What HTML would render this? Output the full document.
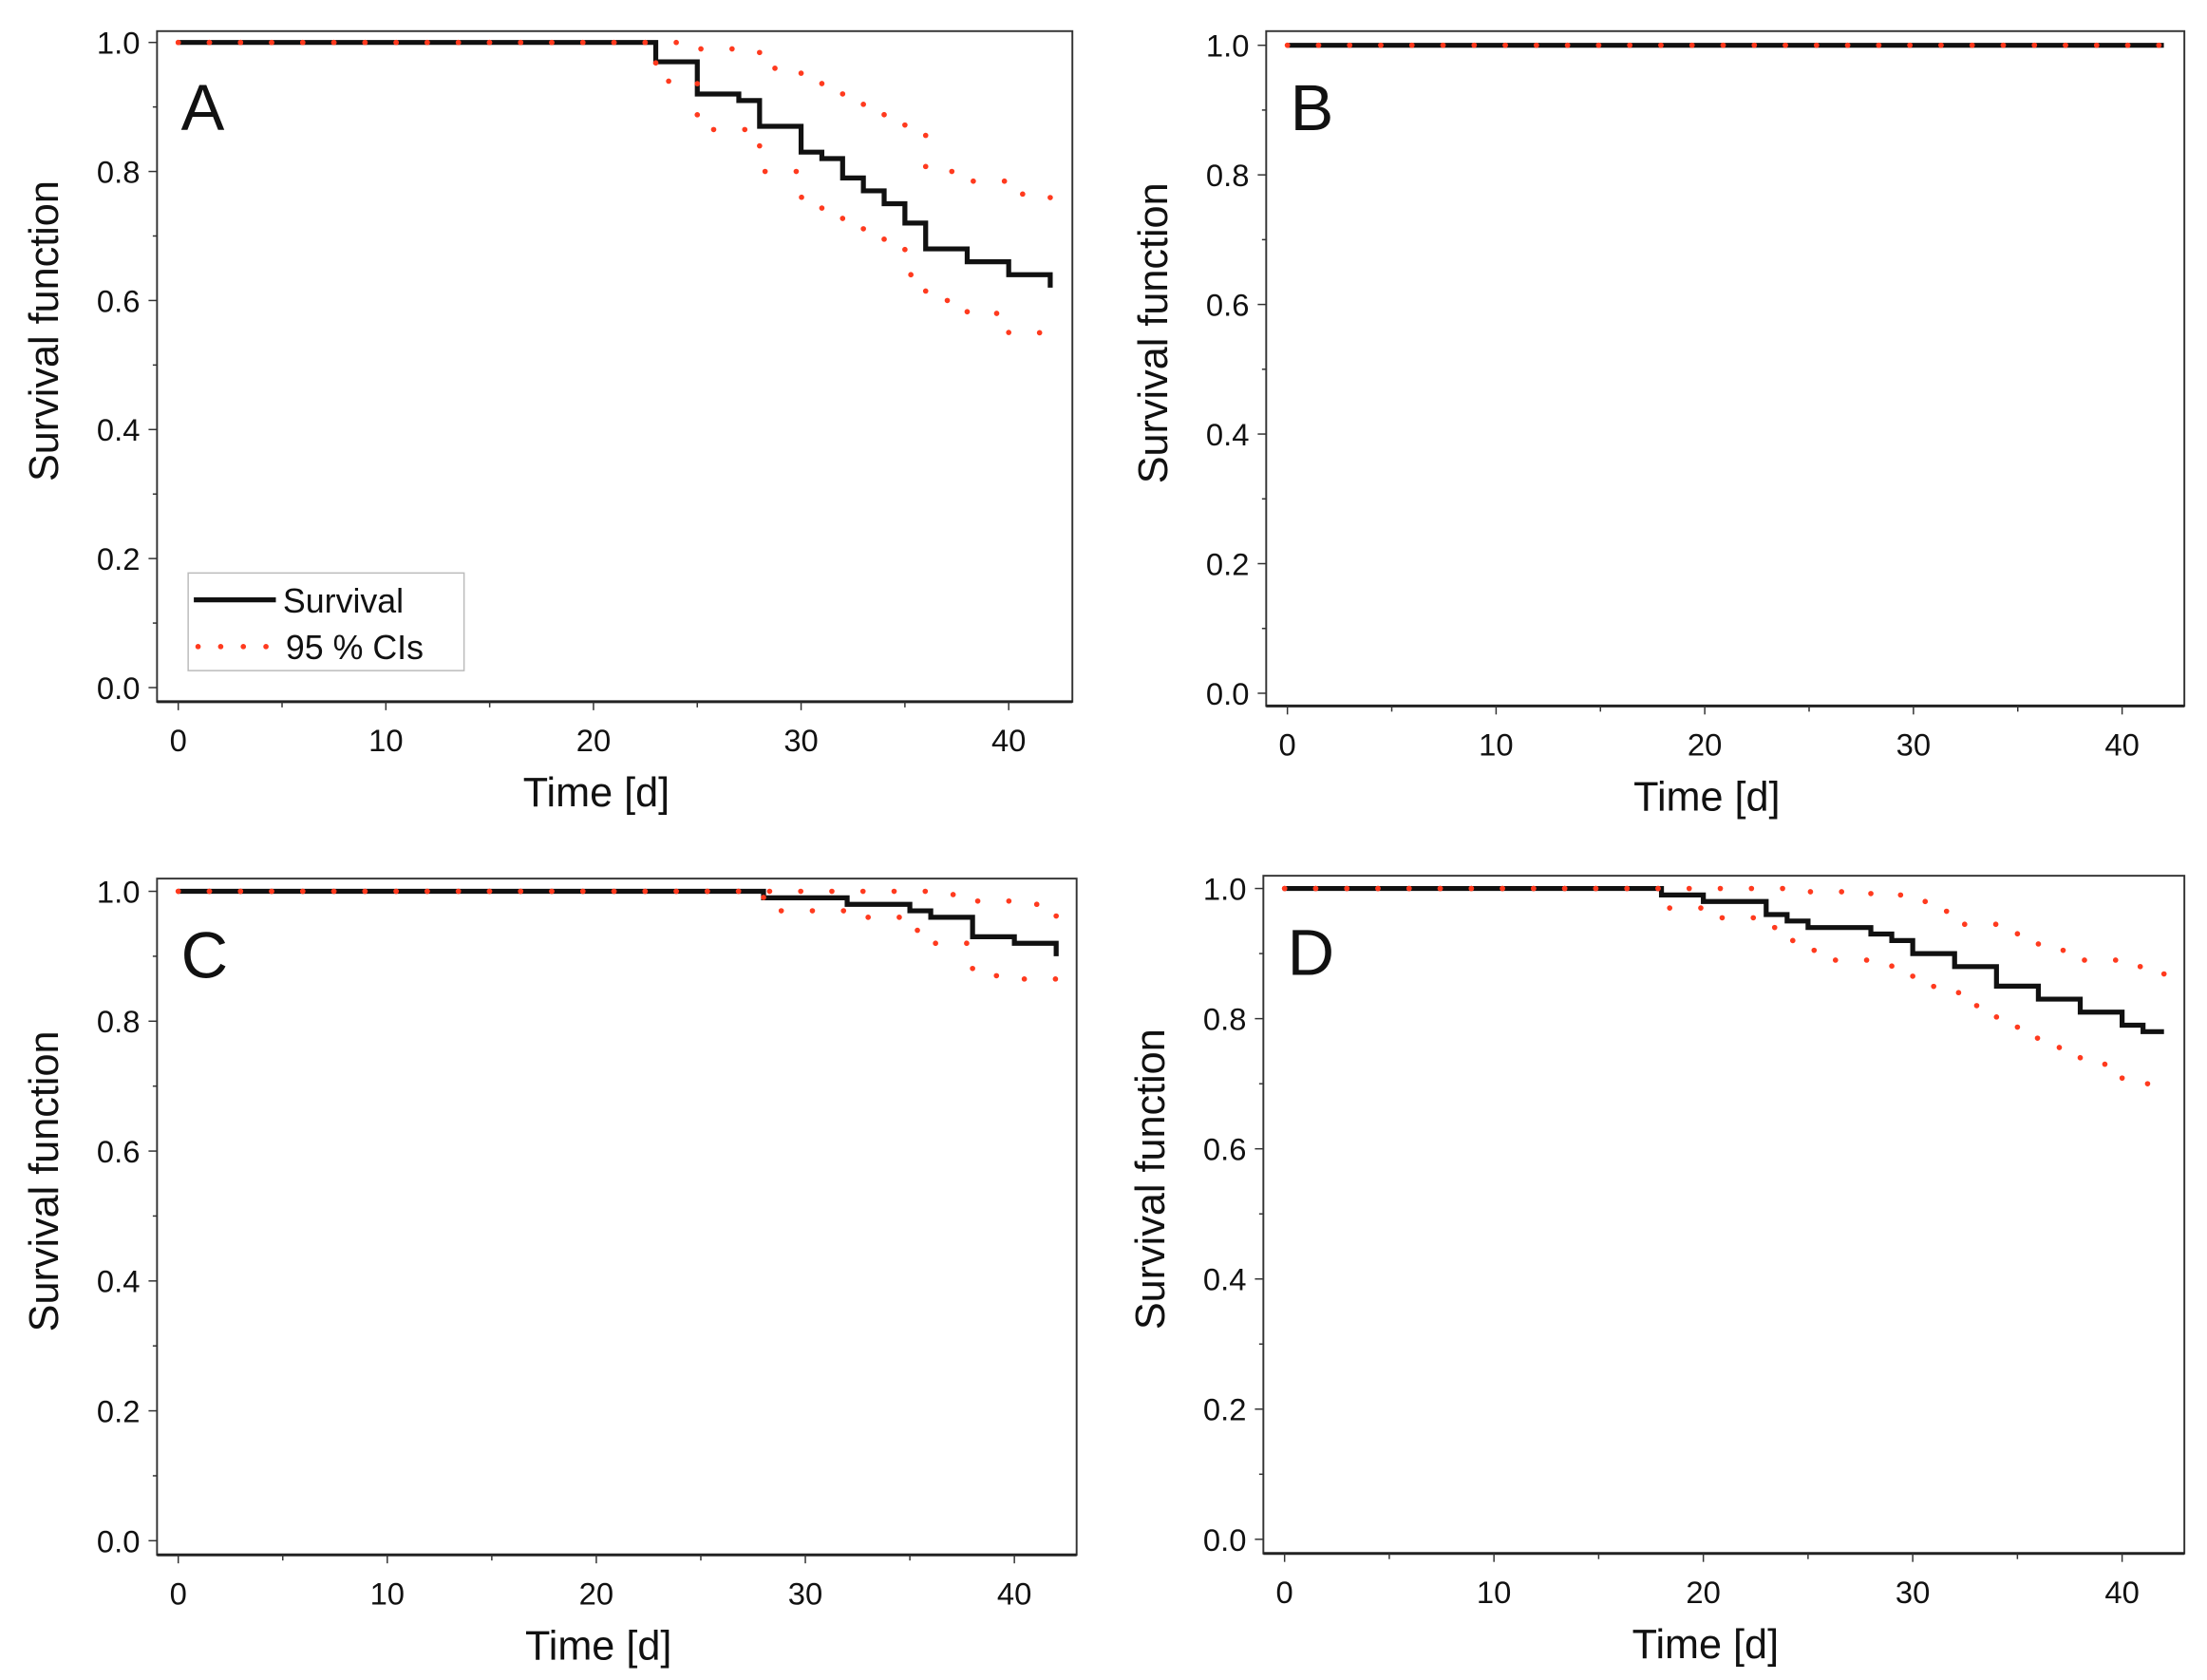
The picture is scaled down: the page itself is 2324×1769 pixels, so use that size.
<!DOCTYPE html>
<html><head><meta charset="utf-8"><style>
html,body{margin:0;padding:0;background:#fff}
svg{display:block}
text{font-family:"Liberation Sans",Arial,sans-serif;fill:#111}
</style></head><body>
<svg id="chart" width="2324" height="1769" viewBox="0 0 1560 1187.45" preserveAspectRatio="none" xmlns="http://www.w3.org/2000/svg"></svg>
<script>
// Panel A data
const aSurvT=[0,23,25,27,28,30,31,32,33,34,35,36,38,40,42];
const aSurvV=[1,0.97,0.92,0.91,0.87,0.83,0.82,0.79,0.77,0.75,0.72,0.68,0.66,0.64,0.62];
const aUpT=[0,25,27,28,29,30,31,32,33,34,35,36,38,40,42];
const aUpV=[1,0.99,0.985,0.96,0.955,0.94,0.93,0.915,0.90,0.88,0.86,0.80,0.785,0.765,0.735];
const aLoT=[0,23,25,28,30,31,32,33,34,35,36,38,40,42];
const aLoV=[1,0.94,0.865,0.80,0.76,0.74,0.72,0.70,0.68,0.64,0.60,0.58,0.55,0.55];
// Panel B data
const bSurvT=[0,42];const bSurvV=[1,1];
const bUpT=[0,42];const bUpV=[1,1];
const bLoT=[0,42];const bLoV=[1,1];
// Panel C data
const cSurvT=[0,28,32,35,36,38,40,42];
const cSurvV=[1,0.99,0.98,0.97,0.96,0.93,0.92,0.90];
const cUpT=[0,36,38,40,42];
const cUpV=[1,0.995,0.985,0.98,0.96];
const cLoT=[0,28,32,35,36,38,40,42];
const cLoV=[1,0.97,0.96,0.94,0.92,0.87,0.865,0.85];
// Panel D data
const dSurvT=[0,18,20,23,24,25,28,29,30,32,34,36,38,40,41,42];
const dSurvV=[1,0.99,0.98,0.96,0.95,0.94,0.93,0.92,0.90,0.88,0.85,0.83,0.81,0.79,0.78,0.78];
const dUpT=[0,25,28,30,31,32,34,35,36,38,40,42];
const dUpV=[1,0.995,0.99,0.98,0.965,0.945,0.945,0.92,0.905,0.89,0.88,0.865];
const dLoT=[0,18,20,23,24,25,26,29,30,31,33,34,35,37,38,40,42];
const dLoV=[1,0.97,0.955,0.94,0.92,0.905,0.89,0.88,0.865,0.84,0.82,0.79,0.77,0.75,0.73,0.70,0.695];
const xTicks=[0,10,20,30,40];
const yTicks=[0,0.2,0.4,0.6,0.8,1.0];
const yTickLabels=["0.0","0.2","0.4","0.6","0.8","1.0"];

const NS="http://www.w3.org/2000/svg";
const svg=document.getElementById('chart');
function el(tag,attrs,parent){const e=document.createElementNS(NS,tag);for(const k in attrs)e.setAttribute(k,attrs[k]);(parent||svg).appendChild(e);return e;}

const panels=[
 {id:'a',L:'A',frame:[111,22,758,496],x0:126,x40:713,y1:30,y0:486,s:[aSurvT,aSurvV],u:[aUpT,aUpV],l:[aLoT,aLoV],legend:true},
 {id:'b',L:'B',frame:[895,22,1544,499],x0:910,x40:1500,y1:32,y0:490,s:[bSurvT,bSurvV],u:[bUpT,bUpV],l:[bLoT,bLoV]},
 {id:'c',L:'C',frame:[111,621,761,1099],x0:126,x40:717,y1:630,y0:1089,s:[cSurvT,cSurvV],u:[cUpT,cUpV],l:[cLoT,cLoV]},
 {id:'d',L:'D',frame:[893,619,1544,1098],x0:908,x40:1500,y1:628,y0:1088,s:[dSurvT,dSurvV],u:[dUpT,dUpV],l:[dLoT,dLoV]}
];
function stepPath(T,V,xs,ys){let d='M'+xs(T[0])+','+ys(V[0]);for(let i=1;i<T.length;i++){d+=' L'+xs(T[i])+','+ys(V[i-1])+' L'+xs(T[i])+','+ys(V[i]);}return d;}
panels.forEach(p=>{
 const g=el('g',{});
 
 
 const xs=t=>p.x0+(p.x40-p.x0)*t/40;
 const ys=v=>p.y0+(p.y1-p.y0)*v;
 const [fl,ft,fr,fb]=p.frame;
 const fr_=el('rect',{x:fl,y:ft,width:fr-fl,height:fb-ft,fill:'none',stroke:'#333','stroke-width':1.3},g);
 
 
 el('line',{x1:fl,y1:fb,x2:fr,y2:fb,stroke:'#222','stroke-width':2},g);
 for(let v=0;v<=10;v++){const y=ys(v/10);el('line',{x1:fl-(v%2?3:6),y1:y,x2:fl,y2:y,stroke:'#333','stroke-width':1},g);}
 yTicks.forEach((v,i)=>{const t=el('text',{x:fl-12,y:ys(v)+8,'text-anchor':'end','font-size':22},g);t.textContent=yTickLabels[i];
  
  });
 for(let t=0;t<=40;t+=5){const x=xs(t);el('line',{x1:x,y1:fb,x2:x,y2:fb+(t%10?4:6),stroke:'#333','stroke-width':1},g);}
 xTicks.forEach(t=>{const tx=el('text',{x:xs(t),y:fb+35,'text-anchor':'middle','font-size':22},g);tx.textContent=t;
  
  });
 const xt=el('text',{x:(fl+fr)/2-13,y:fb+74,'text-anchor':'middle','font-size':29},g);xt.textContent='Time [d]';
 
 
 const cy=(ft+fb)/2-25;
 const yt=el('text',{x:fl-70,y:cy,'text-anchor':'middle','font-size':29,transform:'rotate(-90 '+(fl-70)+' '+cy+')'},g);yt.textContent='Survival function';
 
 
 const lt=el('text',{x:fl+17,y:ft+70,'font-size':46},g);lt.textContent=p.L;
 
 
 const sp=el('path',{d:stepPath(p.s[0],p.s[1],xs,ys),fill:'none',stroke:'#111','stroke-width':3.5},g);
 
 
 [['upper-ci',p.u],['lower-ci',p.l]].forEach(([n,d])=>{
  const pa=el('path',{d:stepPath(d[0],d[1],xs,ys),fill:'none',stroke:'#ff3a1e','stroke-width':3.8,'stroke-linecap':'round','stroke-dasharray':'0 22'},g);
  
  
 });
 if(p.legend){
  const lg=el('g',{},g);
  
  
  el('rect',{x:133,y:405,width:195,height:69,fill:'#fff',stroke:'#bbb','stroke-width':1},lg);
  el('line',{x1:137,y1:424,x2:195,y2:424,stroke:'#111','stroke-width':3.5},lg);
  const t1=el('text',{x:200,y:433,'font-size':24},lg);t1.textContent='Survival';
  
  
  el('line',{x1:140,y1:457,x2:190,y2:457,stroke:'#ff3a1e','stroke-width':3.8,'stroke-linecap':'round','stroke-dasharray':'0 16'},lg);
  const t2=el('text',{x:202,y:466,'font-size':24},lg);t2.textContent='95 % CIs';
  
  
 }
});
</script>
</body></html>
